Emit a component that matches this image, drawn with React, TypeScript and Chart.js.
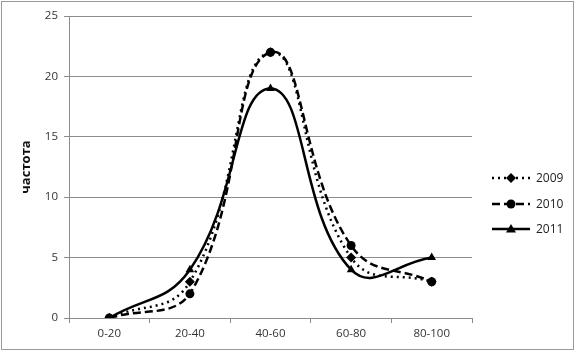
import React, { useEffect, useRef } from "react";
import { Chart, registerables } from "chart.js";

Chart.register(...registerables);

const categories = ["0-20", "20-40", "40-60", "60-80", "80-100"];
const series2009 = [0, 3, 22, 5, 3];
const series2010 = [0, 2, 22, 6, 3];
const series2011 = [0, 4, 19, 4, 5];
const seriesNames = ["2009", "2010", "2011"];
const yTicks = [0, 5, 10, 15, 20, 25];

const FONT = "'Open Sans', sans-serif";

const styles = [
  { dash: [2, 4], point: "rectRot", radius: 5 },
  { dash: [8, 4], point: "circle", radius: 4.5 },
  { dash: [], point: "triangle", radius: 5 },
];

const legendPlugin = {
  id: "customLegend",
  afterDraw(chart: any) {
    const ctx = chart.ctx;
    ctx.save();
    // outer border
    ctx.strokeStyle = "#9a9a9a";
    ctx.lineWidth = 1;
    ctx.strokeRect(1.5, 1.5, 572, 348);
    const ys = [178, 204, 229];
    chart.data.datasets.forEach((ds: any, i: number) => {
      const y = ys[i];
      ctx.strokeStyle = "#000";
      ctx.lineWidth = 2.5;
      ctx.setLineDash(styles[i].dash);
      ctx.beginPath();
      ctx.moveTo(492, y);
      ctx.lineTo(530, y);
      ctx.stroke();
      ctx.setLineDash([]);
      ctx.fillStyle = "#000";
      const cx = 511;
      ctx.beginPath();
      if (i === 0) {
        ctx.moveTo(cx, y - 5);
        ctx.lineTo(cx + 5, y);
        ctx.lineTo(cx, y + 5);
        ctx.lineTo(cx - 5, y);
      } else if (i === 1) {
        ctx.arc(cx, y, 4.5, 0, Math.PI * 2);
      } else {
        ctx.moveTo(cx, y - 5);
        ctx.lineTo(cx + 5, y + 3.5);
        ctx.lineTo(cx - 5, y + 3.5);
      }
      ctx.closePath();
      ctx.fill();
      ctx.fillStyle = "#222";
      ctx.font = `12px ${FONT}`;
      ctx.textBaseline = "middle";
      ctx.textAlign = "left";
      ctx.fillText(ds.label, 536, y + 1);
    });
    ctx.restore();
  },
};

export default function App() {
  const ref = useRef<HTMLCanvasElement | null>(null);
  useEffect(() => {
    document.body.style.margin = "0";
    const data = [series2009, series2010, series2011];
    const chart = new Chart(ref.current as HTMLCanvasElement, {
      type: "line",
      data: {
        labels: categories,
        datasets: data.map((d, i) => ({
          label: seriesNames[i],
          data: d,
          borderColor: "#000",
          backgroundColor: "#000",
          borderWidth: 2.5,
          borderDash: styles[i].dash,
          pointStyle: styles[i].point as any,
          pointRadius: styles[i].radius,
          pointBackgroundColor: "#000",
          pointBorderColor: "#000",
          pointBorderWidth: 0,
          tension: 0.45,
          fill: false,
        })),
      },
      options: {
        animation: false,
        responsive: false,
        maintainAspectRatio: false,
        layout: { padding: { left: 0, right: 106, top: 16, bottom: 0 } },
        plugins: {
          legend: { display: false },
          tooltip: { enabled: false },
        },
        scales: {
          x: {
            type: "category",
            offset: true,
            grid: {
              offset: true,
              drawOnChartArea: false,
              drawTicks: true,
              tickLength: 5,
              color: "#8c8c8c",
            },
            border: { color: "#8c8c8c", width: 1 },
            ticks: {
              color: "#333",
              font: { family: FONT, size: 11.5 },
              padding: 4,
              maxRotation: 0,
            },
            afterFit: (s: any) => {
              s.height = 35;
            },
          },
          y: {
            min: 0,
            max: 25,
            afterBuildTicks: (s: any) => {
              s.ticks = yTicks.map((v) => ({ value: v }));
            },
            grid: {
              color: "#8c8c8c",
              tickLength: 5,
            },
            border: { color: "#8c8c8c", width: 1 },
            ticks: {
              color: "#333",
              font: { family: FONT, size: 11.5 },
              padding: 6,
            },
            title: {
              display: true,
              text: "частота",
              color: "#111",
              font: { family: FONT, size: 13, weight: "bold" },
              padding: { top: 18, bottom: 0 },
            },
            afterFit: (s: any) => {
              s.width = 69;
            },
          },
        },
      },
      plugins: [legendPlugin],
    });
    return () => chart.destroy();
  }, []);
  return (
    <div style={{ width: 578, height: 353, background: "#fff" }}>
      <canvas ref={ref} width={578} height={353} style={{ display: "block" }} />
    </div>
  );
}
